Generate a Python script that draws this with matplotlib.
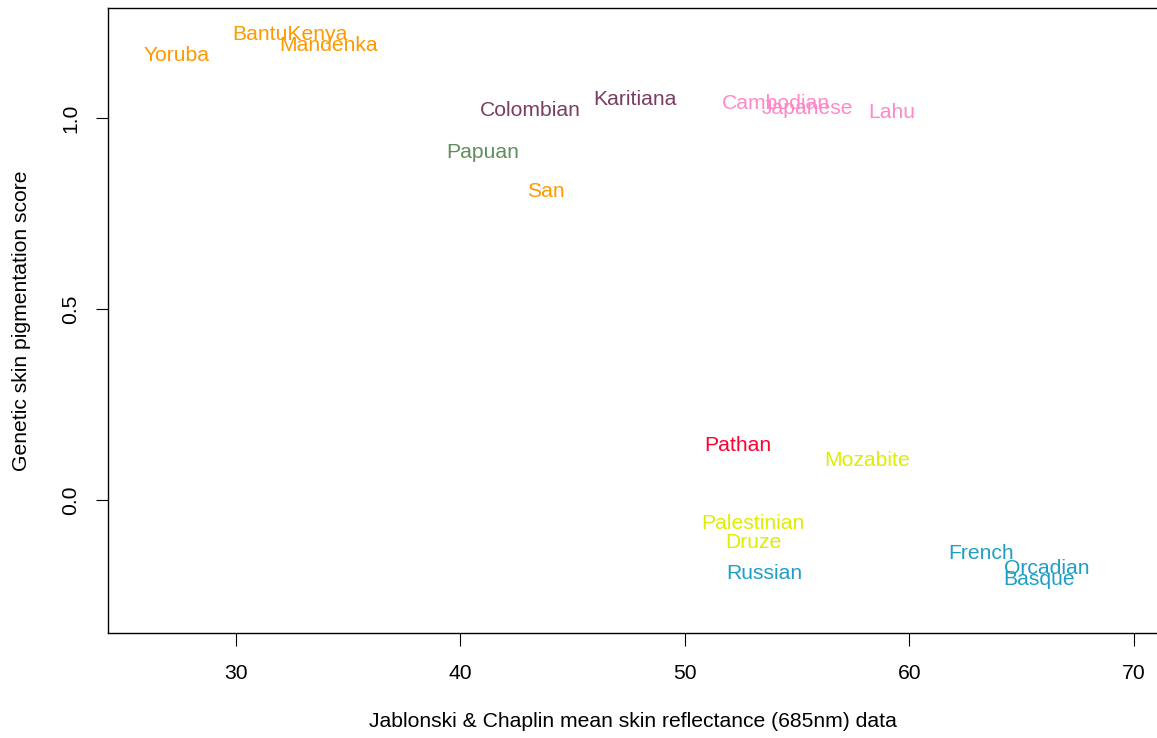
import matplotlib
matplotlib.use("Agg")
import matplotlib.pyplot as plt

plt.rcParams['font.family'] = ['Liberation Sans', 'DejaVu Sans']

# population labels and their coordinates
populations = ["Yoruba", "BantuKenya", "Mandenka", "Colombian", "Karitiana",
               "Papuan", "San", "Cambodian", "Japanese", "Lahu", "Pathan",
               "Mozabite", "Palestinian", "Druze", "Russian", "French",
               "Orcadian", "Basque"]
reflectance = [27.37, 32.4, 34.14, 43.1, 47.77, 41.0, 43.81, 54.05, 55.48,
               59.22, 52.36, 58.1, 53.03, 53.07, 53.52, 63.18, 66.12, 65.77]
pigment_score = [1.168, 1.225, 1.194, 1.026, 1.055, 0.916, 0.812, 1.042,
                 1.031, 1.021, 0.147, 0.110, -0.055, -0.107, -0.188, -0.134,
                 -0.175, -0.204]
region = ["Africa", "Africa", "Africa", "America", "America", "Oceania",
          "Africa", "EastAsia", "EastAsia", "EastAsia", "CSAsia",
          "MiddleEast", "MiddleEast", "MiddleEast", "Europe", "Europe",
          "Europe", "Europe"]

region_colors = {"Africa": "#FF9900", "America": "#7A3D63",
                 "Oceania": "#5F8F5A", "EastAsia": "#FF88C8",
                 "CSAsia": "#FF0033", "MiddleEast": "#DDEE00",
                 "Europe": "#1F9FC6"}

fs = 15.2

fig = plt.figure(figsize=(11.57, 7.38), dpi=100)
ax = fig.add_axes([108 / 1157, 105 / 738, 1 - 108 / 1157, 625 / 738])

for name, x, y, r in zip(populations, reflectance, pigment_score, region):
    ax.text(x, y, name, color=region_colors[r], fontsize=fs,
            ha="center", va="center_baseline")

ax.set_xlim(24.30, 71.03)
ax.set_ylim(-0.348, 1.288)
ax.set_xticks([30, 40, 50, 60, 70])
ax.set_yticks([0.0, 0.5, 1.0])
ax.set_yticklabels(["0.0", "0.5", "1.0"], rotation=90, va="center")
ax.tick_params(direction="out", length=9, width=0.8, labelsize=fs)
ax.tick_params(axis="x", pad=13)
ax.tick_params(axis="y", pad=11)
ax.spines["right"].set_visible(False)
for s in ["left", "top", "bottom"]:
    ax.spines[s].set_linewidth(1.0)

ax.set_xlabel("Jablonski & Chaplin mean skin reflectance (685nm) data",
              fontsize=fs, labelpad=21)
ax.set_ylabel("Genetic skin pigmentation score", fontsize=fs, labelpad=22)

fig.savefig("out.png", dpi=100)
